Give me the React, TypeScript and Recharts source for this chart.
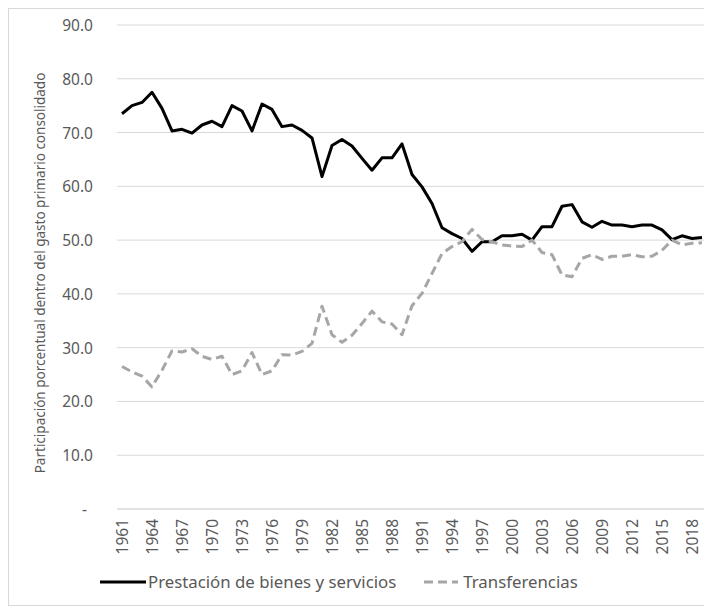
import React from "react";
import { LineChart, Line, XAxis, YAxis, CartesianGrid, Legend } from "recharts";

const years: string[] = Array.from({ length: 59 }, (_, i) => String(1961 + i));

const prestacion: number[] = [
  73.5, 75.0, 75.6, 77.5, 74.5, 70.3, 70.6, 69.9, 71.4, 72.1,
  71.1, 75.0, 74.0, 70.3, 75.3, 74.3, 71.1, 71.4, 70.4, 69.0,
  61.8, 67.6, 68.7, 67.5, 65.2, 63.0, 65.3, 65.3, 67.9, 62.2,
  59.9, 56.8, 52.3, 51.2, 50.3, 47.9, 49.7, 49.7, 50.8, 50.8,
  51.1, 50.0, 52.5, 52.5, 56.3, 56.6, 53.4, 52.4, 53.5, 52.8,
  52.8, 52.5, 52.8, 52.8, 51.9, 50.1, 50.8, 50.3, 50.5,
];

const transferencias: number[] = [
  26.5, 25.5, 24.7, 22.7, 25.8, 29.4, 29.2, 29.8, 28.4, 27.8,
  28.4, 25.0, 25.7, 29.1, 25.0, 25.7, 28.7, 28.6, 29.3, 30.8,
  37.7, 32.4, 31.0, 32.3, 34.5, 36.8, 34.8, 34.4, 32.4, 37.8,
  40.1, 43.8, 47.5, 48.8, 49.7, 52.0, 50.1, 49.7, 49.1, 48.9,
  48.8, 50.0, 47.7, 47.3, 43.5, 43.2, 46.6, 47.3, 46.4, 47.0,
  47.0, 47.3, 46.9, 47.0, 48.1, 50.0, 49.1, 49.4, 49.5,
];

const yTicks: number[] = [0, 10, 20, 30, 40, 50, 60, 70, 80, 90];

const seriesNames = {
  prestacion: "Prestación de bienes y servicios",
  transferencias: "Transferencias",
};

const yTitle = "Participación porcentual dentro del gasto primario consolidado";

const data = years.map((y, i) => ({
  year: y,
  prestacion: prestacion[i],
  transferencias: transferencias[i],
}));

const FONT = "'Noto Sans', 'Open Sans', sans-serif";
const TEXT = "#595959";

const XTick = (props: any) => {
  const { x, y, payload } = props;
  return (
    <text
      x={x}
      y={y}
      transform={`rotate(-90 ${x} ${y})`}
      textAnchor="end"
      dominantBaseline="central"
      fill={TEXT}
      fontSize={15.5}
      fontFamily={FONT}
    >
      {payload.value}
    </text>
  );
};

const YTick = (props: any) => {
  const { x, y, payload } = props;
  const v = payload.value as number;
  const label = v === 0 ? "-" : v.toFixed(1);
  return (
    <text
      x={v === 0 ? x - 6 : x}
      y={y}
      textAnchor="end"
      dominantBaseline="central"
      fill={TEXT}
      fontSize={15.5}
      fontFamily={FONT}
    >
      {label}
    </text>
  );
};

const LegendContent = () => (
  <div
    style={{
      height: 36,
      display: "flex",
      alignItems: "flex-start",
      paddingLeft: 91,
      fontFamily: FONT,
      fontSize: 16.8,
      color: TEXT,
      boxSizing: "border-box",
      paddingTop: 1,
    }}
  >
    <svg width={47} height={24} style={{ display: "block" }}>
      <line x1={0} y1={12} x2={46} y2={12} stroke="#000" strokeWidth={3} />
    </svg>
    <span style={{ lineHeight: "24px", marginLeft: 1 }}>{seriesNames.prestacion}</span>
    <svg width={34} height={24} style={{ display: "block", marginLeft: 28 }}>
      <line
        x1={0}
        y1={12}
        x2={34}
        y2={12}
        stroke="#a6a6a6"
        strokeWidth={3}
        strokeDasharray="9 5"
      />
    </svg>
    <span style={{ lineHeight: "24px", marginLeft: 5 }}>{seriesNames.transferencias}</span>
  </div>
);

const YLabel = (props: any) => {
  const vb = props.viewBox || {};
  const cx = 31;
  const cy = (vb.y ?? 16) + (vb.height ?? 484) / 2 + 6;
  return (
    <text
      x={cx}
      y={cy}
      transform={`rotate(-90 ${cx} ${cy})`}
      textAnchor="middle"
      dominantBaseline="central"
      fill={TEXT}
      fontSize={13.5}
      fontFamily={FONT}
    >
      {yTitle}
    </text>
  );
};

export default function App() {
  return (
    <div
      style={{
        width: 702,
        height: 596,
        border: "1px solid #d9d9d9",
        background: "#fff",
      }}
    >
      <LineChart
        width={702}
        height={596}
        data={data}
        margin={{ top: 16, right: 4, left: 0, bottom: 0 }}
      >
        <CartesianGrid vertical={false} stroke="#d9d9d9" strokeWidth={1} />
        <XAxis
          dataKey="year"
          interval={2}
          tick={<XTick />}
          tickLine={false}
          axisLine={{ stroke: "#d9d9d9" }}
          height={60}
          tickMargin={4}
          padding={{ left: 5, right: 5 }}
        />
        <YAxis
          domain={[0, 90]}
          ticks={yTicks}
          tick={<YTick />}
          tickLine={false}
          axisLine={false}
          width={108}
          tickMargin={18}
          label={<YLabel />}
        />
        <Legend verticalAlign="bottom" content={<LegendContent />} height={36} />
        <Line
          dataKey="prestacion"
          name={seriesNames.prestacion}
          stroke="#000000"
          strokeWidth={3}
          dot={false}
          isAnimationActive={false}
          strokeLinejoin="round"
        />
        <Line
          dataKey="transferencias"
          name={seriesNames.transferencias}
          stroke="#a6a6a6"
          strokeWidth={3}
          strokeDasharray="9 5"
          dot={false}
          isAnimationActive={false}
          strokeLinejoin="round"
        />
      </LineChart>
    </div>
  );
}
